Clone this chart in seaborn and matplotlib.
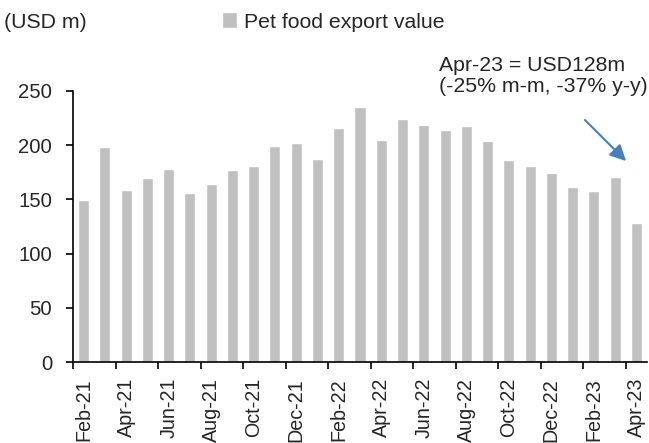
import matplotlib
matplotlib.use("Agg")
import matplotlib.pyplot as plt
import seaborn as sns
import pandas as pd
import numpy as np

months = ["Feb-21","Mar-21","Apr-21","May-21","Jun-21","Jul-21","Aug-21","Sep-21","Oct-21","Nov-21",
          "Dec-21","Jan-22","Feb-22","Mar-22","Apr-22","May-22","Jun-22","Jul-22","Aug-22","Sep-22",
          "Oct-22","Nov-22","Dec-22","Jan-23","Feb-23","Mar-23","Apr-23"]
values = [149, 198, 159, 170, 178, 156, 164, 177, 181, 199,
          202, 187, 216, 235, 205, 224, 219, 214, 218, 204,
          186, 181, 174, 161, 158, 171, 128]
series_name = "Pet food export value"

sns.set_theme(style="white")
plt.rcParams["font.family"] = ["Liberation Sans", "DejaVu Sans"]

df = pd.DataFrame({"month": months, "value": values})

FS = 15.3

fig = plt.figure(figsize=(6.49, 4.43), dpi=100)
ax = fig.add_axes([73/649, 1 - 362/443, (647-73)/649, (362-91)/443])

sns.barplot(data=df, x="month", y="value", color="#c0c0c0", saturation=1,
            width=0.52, ax=ax, label=series_name)

n = len(months)
ax.set_xlim(-0.5, n - 0.5)
ax.set_ylim(0, 250)
ax.set_yticks(range(0, 251, 50))
ax.tick_params(axis="y", labelsize=14.6, length=5, width=1.2, direction="out", color="black", pad=10, left=True)

# major ticks at category boundaries every 2, labels on minor ticks at centres
ax.set_xticks(np.arange(-0.5, n, 2))
ax.set_xticklabels([])
ax.set_xticks(np.arange(0, n, 2), minor=True)
ax.set_xticklabels(months[::2], minor=True, rotation=90)
ax.tick_params(axis="x", which="major", length=5, width=1.2, direction="out", color="black", bottom=True)
ax.tick_params(axis="x", which="minor", length=0, labelsize=14.2, pad=11.5, bottom=True)

for s in ["top", "right"]:
    ax.spines[s].set_visible(False)
for s in ["left", "bottom"]:
    ax.spines[s].set_color("black")
    ax.spines[s].set_linewidth(1.2)

ax.set_xlabel("")
ax.set_ylabel("")
ax.grid(False)

leg = ax.legend(frameon=False)
handles = leg.legend_handles
leg.remove()
fig.legend(handles=handles, labels=[series_name], loc="center left",
           bbox_to_anchor=(222/649, 1 - 22/443), frameon=False, fontsize=FS,
           handlelength=0.72, handleheight=0.72, handletextpad=0.3, borderaxespad=0, borderpad=0)

fig.text(4/649, 1 - 22/443, "(USD m)", fontsize=FS, va="center", ha="left")
fig.text(439/649, 1 - 76/443, "Apr-23 = USD128m\n(-25% m-m, -37% y-y)", fontsize=FS,
         va="center", ha="left", linespacing=1.15)

ax.annotate("", xy=(628/649, 1 - 163/443), xytext=(583/649, 1 - 118/443),
            xycoords="figure fraction", textcoords="figure fraction",
            arrowprops=dict(arrowstyle="-|>,head_length=0.8,head_width=0.4", color="#4a7ebb", lw=1.5))

fig.savefig("out.png", dpi=100)
